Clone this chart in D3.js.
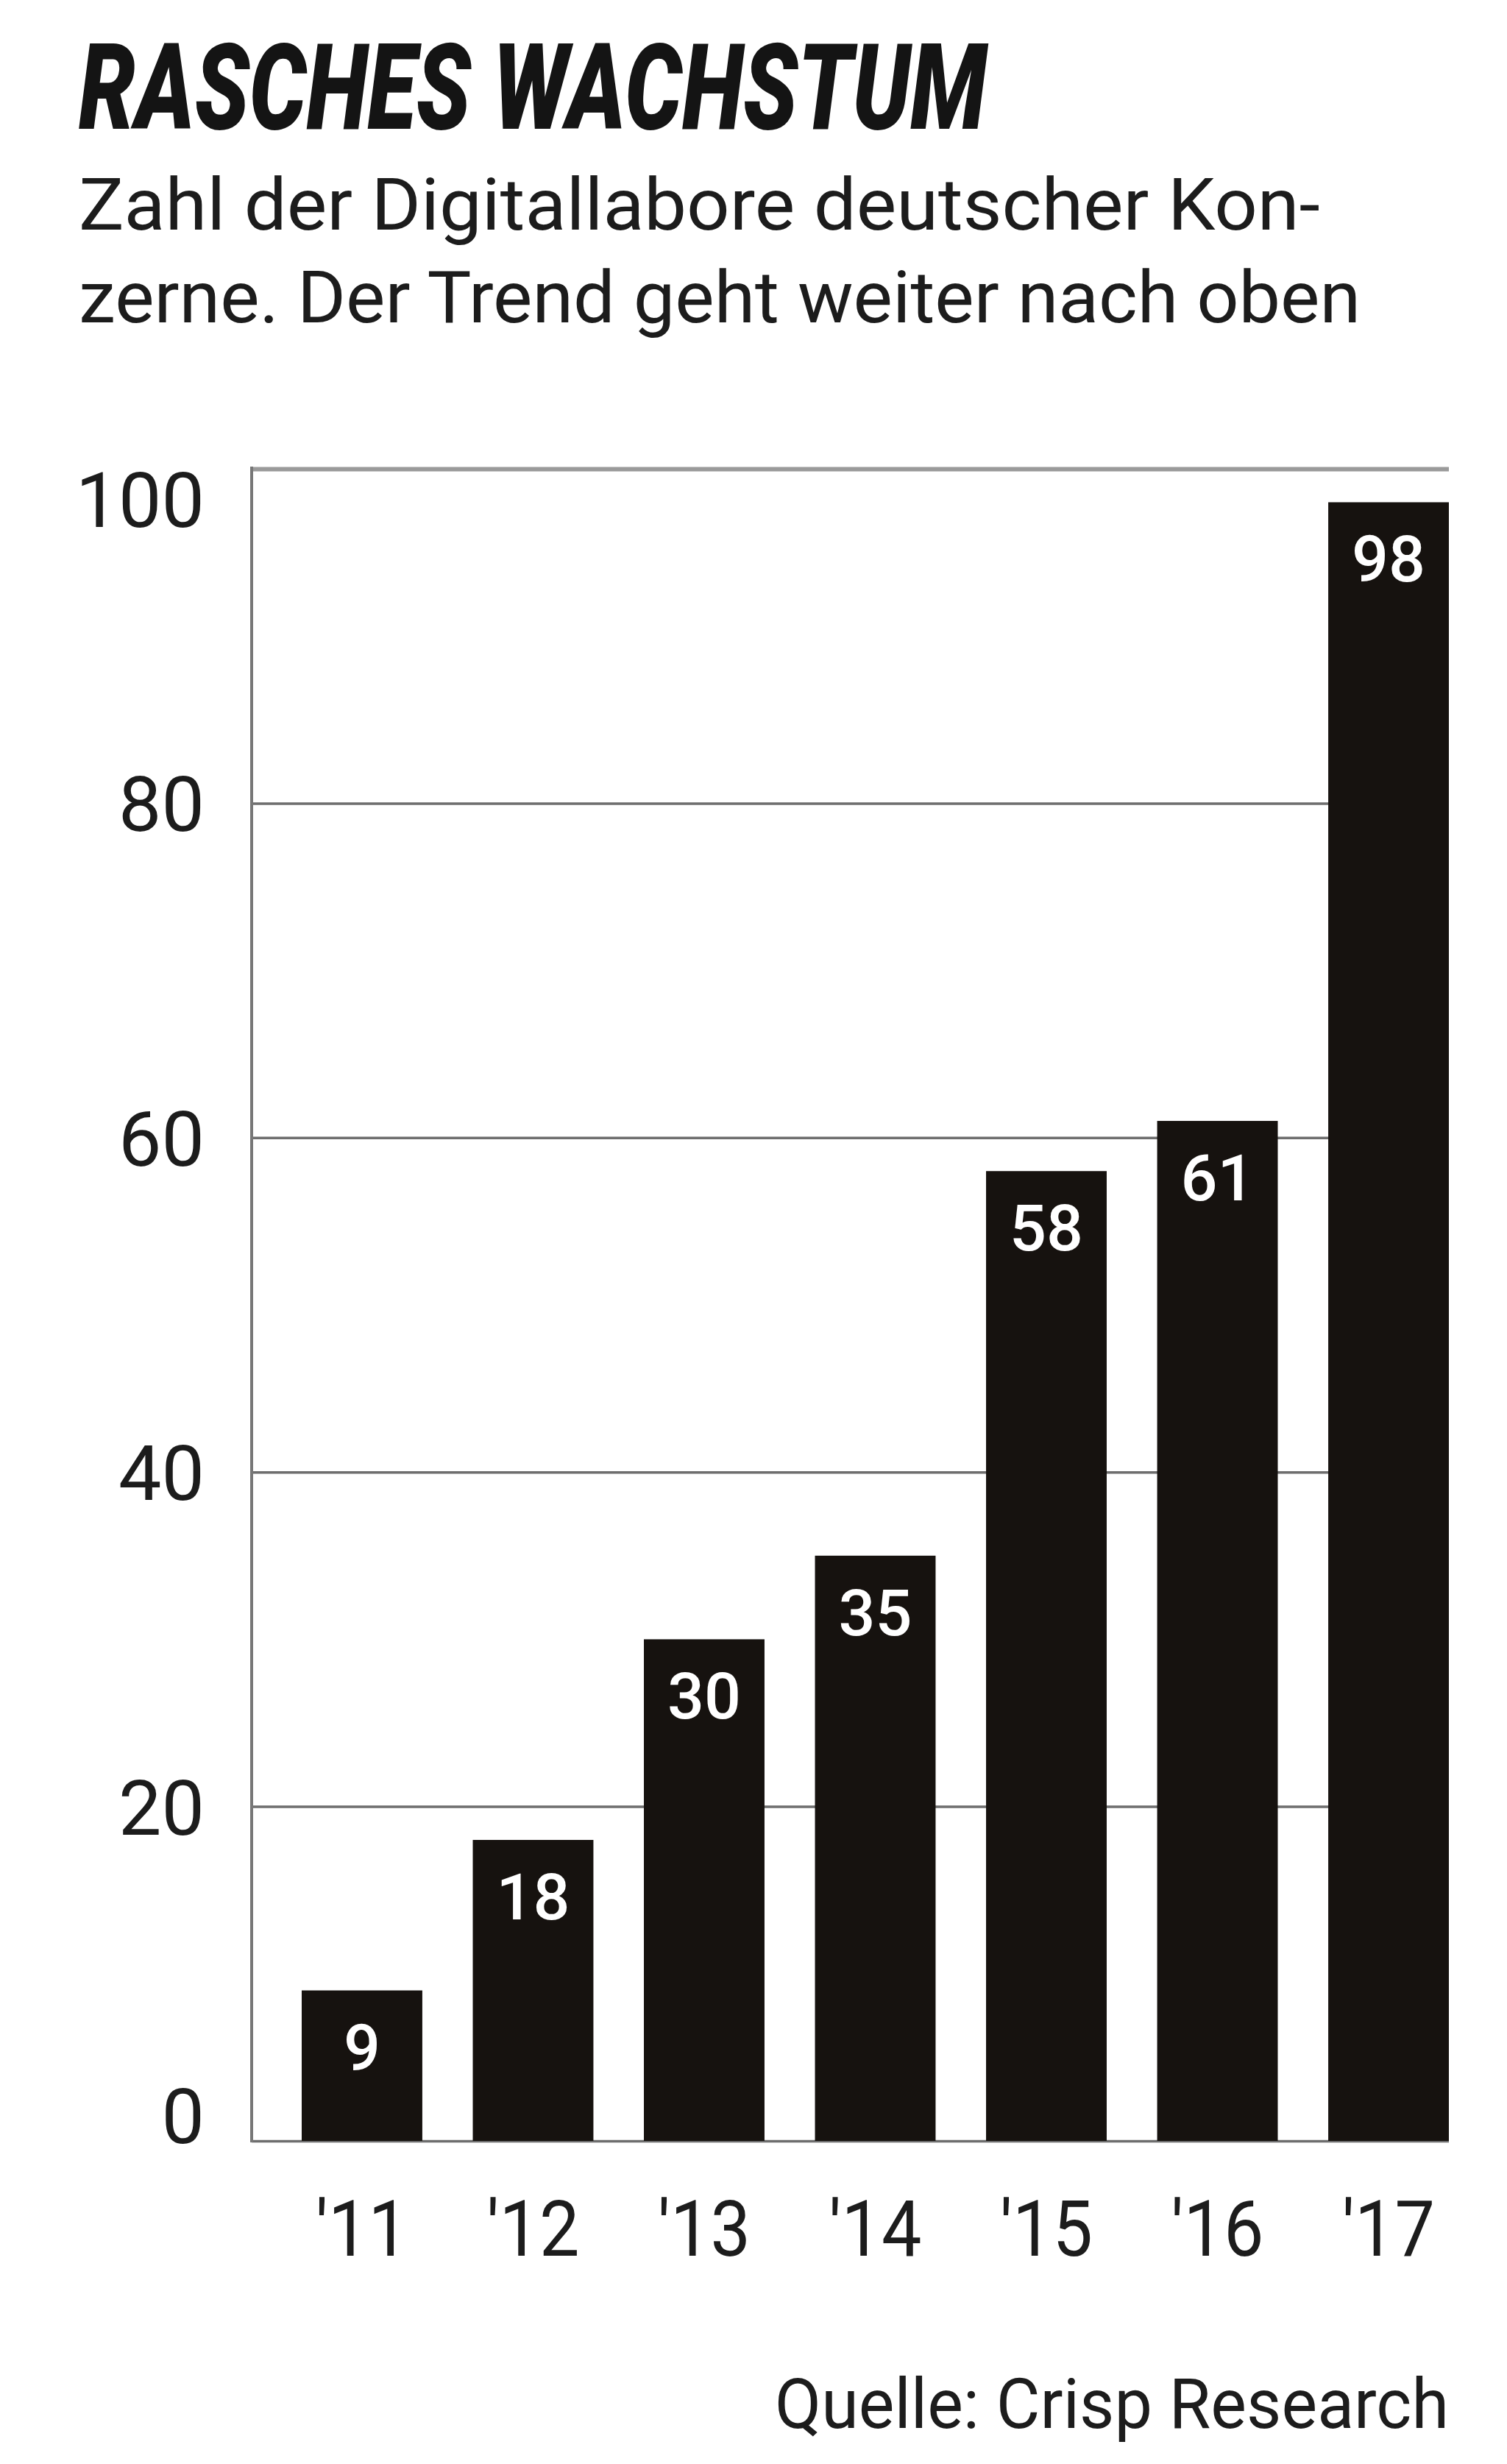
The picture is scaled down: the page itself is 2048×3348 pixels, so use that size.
<!DOCTYPE html>
<html>
<head>
<meta charset="utf-8">
<script src="https://cdn.jsdelivr.net/npm/d3@7"></script>
<style>
  html, body { margin: 0; padding: 0; background: #ffffff; }
  svg { display: block; }
</style>
</head>
<body>
<svg id="chart" width="2048" height="3348"></svg>
<script>
// ---- data ----
const categories = ["'11", "'12", "'13", "'14", "'15", "'16", "'17"];
const values = [9, 18, 30, 35, 58, 61, 98];
const yTicks = [0, 20, 40, 60, 80, 100];
const title = "RASCHES WACHSTUM";
const subtitleLines = ["Zahl der Digitallabore deutscher Kon-", "zerne. Der Trend geht weiter nach oben"];
const source = "Quelle: Crisp Research";

// ---- layout ----
const svg = d3.select("#chart");
const font = "Roboto, 'Liberation Sans', sans-serif";
const axisX = 342, plotRight = 1969, plotTop = 637, plotBottom = 2909;

const x = d3.scaleBand().domain(categories).range([410, plotRight]).paddingInner(0.295).paddingOuter(0);
const y = d3.scaleLinear().domain([0, 100]).range([plotBottom, plotTop]);

// title + subtitle
svg.append("text")
  .attr("x", 107).attr("y", 175)
  .attr("font-family", font).attr("font-weight", 900).attr("font-style", "italic")
  .attr("font-size", 162).attr("fill", "#141414")
  .attr("textLength", 1234).attr("lengthAdjust", "spacingAndGlyphs")
  .text(title);

const subWidths = [1687, 1742];
subtitleLines.forEach((t, i) => {
  svg.append("text")
    .attr("x", 107).attr("y", 312 + i * 126)
    .attr("font-family", font).attr("font-size", 98).attr("fill", "#1c1c1c")
    .attr("textLength", subWidths[i]).attr("lengthAdjust", "spacingAndGlyphs")
    .text(t);
});

// gridlines + y labels
const yAxis = svg.append("g")
  .attr("transform", `translate(${axisX},0)`)
  .call(d3.axisLeft(y).tickValues(yTicks).tickSize(-(plotRight - axisX)).tickPadding(64));
yAxis.select(".domain").remove();
yAxis.selectAll(".tick line")
  .attr("stroke", d => d === 100 ? "#9a9a9a" : "#6e6e6e")
  .attr("stroke-width", d => d === 100 ? 6 : 3.5);
yAxis.selectAll(".tick text")
  .attr("font-family", font).attr("font-size", 104).attr("fill", "#1c1c1c")
  .attr("dy", d => d === 100 ? "0.75em" : (d === 0 ? "0.02em" : "0.36em"));

// vertical axis line
svg.append("line")
  .attr("x1", axisX).attr("x2", axisX)
  .attr("y1", plotTop - 3).attr("y2", plotBottom + 2)
  .attr("stroke", "#777777").attr("stroke-width", 4);

// bars
svg.append("g").selectAll("rect")
  .data(values)
  .join("rect")
  .attr("x", (d, i) => x(categories[i]))
  .attr("width", x.bandwidth())
  .attr("y", d => y(d))
  .attr("height", d => y(0) - y(d))
  .attr("fill", "#16120f");

// value labels
svg.append("g").selectAll("text")
  .data(values)
  .join("text")
  .attr("x", (d, i) => x(categories[i]) + x.bandwidth() / 2)
  .attr("y", d => y(d) + 108)
  .attr("text-anchor", "middle")
  .attr("font-family", font).attr("font-weight", 500).attr("font-size", 88).attr("fill", "#ffffff")
  .text(d => d);

// x axis labels
const xAxis = svg.append("g")
  .attr("transform", `translate(0,${plotBottom})`)
  .call(d3.axisBottom(x).tickSize(0).tickPadding(0));
xAxis.select(".domain").remove();
xAxis.selectAll(".tick text")
  .attr("font-family", font).attr("font-size", 106).attr("fill", "#1c1c1c")
  .attr("dy", 0).attr("y", 156)
  .attr("textLength", 126).attr("lengthAdjust", "spacingAndGlyphs");

// source
svg.append("text")
  .attr("x", plotRight).attr("y", 3299)
  .attr("text-anchor", "end")
  .attr("font-family", font).attr("font-size", 94).attr("fill", "#1c1c1c")
  .attr("textLength", 916).attr("lengthAdjust", "spacingAndGlyphs")
  .text(source);
</script>
</body>
</html>
